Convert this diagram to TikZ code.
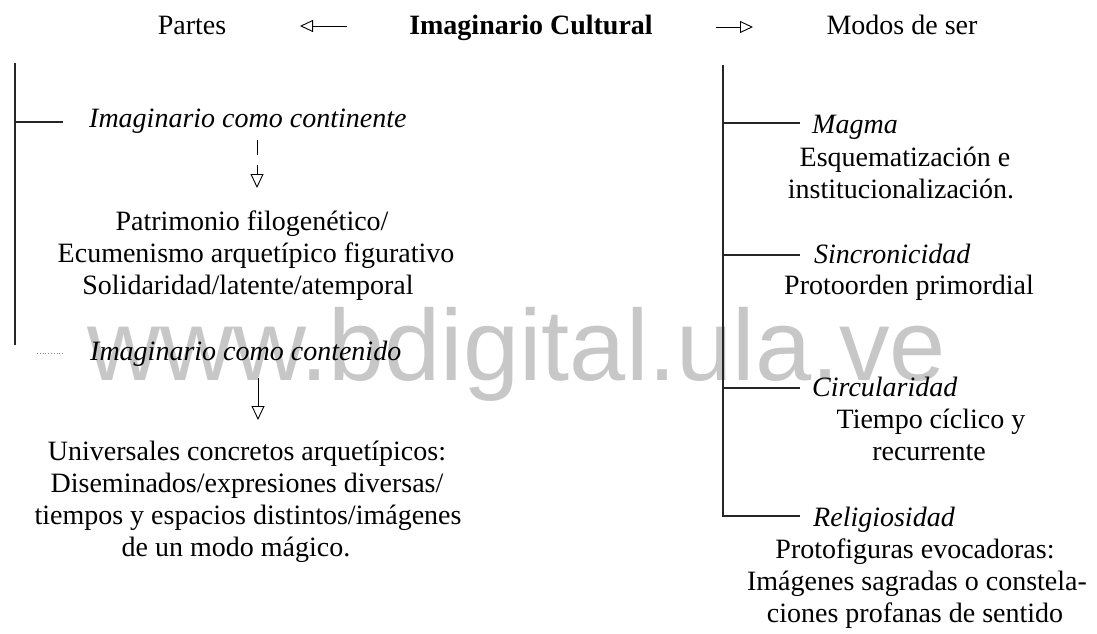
\documentclass[tikz,border=0pt]{standalone}
\usepackage{fontspec}
\setmainfont{Liberation Serif}
\newfontfamily\wmfont{Liberation Sans}
\usetikzlibrary{arrows.meta}
\begin{document}
\begin{tikzpicture}[x=1pt,y=-1pt,
  txt/.style={inner sep=0pt,anchor=base,font=\fontsize{28}{32}\selectfont},
  itx/.style={inner sep=0pt,anchor=base west,font=\fontsize{28}{32}\selectfont\itshape},
  tree/.style={line width=1.1pt,black!85},
  openarrow/.style={line width=0.9pt,-{Triangle[open,length=14pt,width=13pt]}},
  headarrow/.style={line width=0.9pt,-{Triangle[open,length=13pt,width=12pt]}}]
\useasboundingbox (0,0) rectangle (1097,634);
% watermark
\node[inner sep=0pt,anchor=base west,text=black!22,font=\fontsize{101}{106}\wmfont] (wm) at (87,380) {www.bdigital.ula.ve};
% header
\node[txt] (partes) at (192,35) {Partes};
\node[txt,font=\fontsize{28}{32}\selectfont\bfseries] (imc) at (531,35) {Imaginario Cultural};
\node[txt] (modos) at (902,35) {Modos de ser};
\coordinate (la1) at (347,26);
\coordinate (la2) at (300,26);
\coordinate (ra1) at (716,27);
\coordinate (ra2) at (753,27);
\draw[headarrow] (la1) -- (la2);
\draw[headarrow] (ra1) -- (ra2);
% left side
\node[itx] (cont) at (89,127) {Imaginario como continente};
\node[txt] (p1) at (252,230) {Patrimonio filogenético/};
\node[txt] (p2) at (256,262) {Ecumenismo arquetípico figurativo};
\node[txt] (p3) at (248,294) {Solidaridad/latente/atemporal};
\node[itx] (cont2) at (90,360) {Imaginario como contenido};
\node[txt] (u1) at (247,460) {Universales concretos arquetípicos:};
\node[txt] (u2) at (247,492) {Diseminados/expresiones diversas/};
\node[txt] (u3) at (248,524) {tiempos y espacios distintos/imágenes};
\node[txt] (u4) at (236,556) {de un modo mágico.};
\coordinate (ltop) at (15,63);
\coordinate (lbot) at (15,345);
\coordinate (lmid) at (15,122);
\coordinate (lend) at (63,122);
\coordinate (dash1) at (37,353);
\coordinate (dash2) at (63,353);
\draw[tree] (ltop) -- (lbot);
\draw[tree] (lmid) -- (lend);
\draw[black!45,line width=0.8pt,dotted] (dash1) -- (dash2);
\coordinate (a1s) at (257,140);
\coordinate (a1e) at (257,188);
\coordinate (a2s) at (258,378);
\coordinate (a2e) at (258,420);
\draw[openarrow,dash pattern=on 15pt off 10pt] (a1s) -- (a1e);
\draw[openarrow] (a2s) -- (a2e);
% right side
\coordinate (rtop) at (723,65);
\coordinate (r1) at (723,123);
\coordinate (r2) at (723,255);
\coordinate (r3) at (723,388);
\coordinate (r4) at (723,516);
\coordinate (e1) at (800,123);
\coordinate (e2) at (800,255);
\coordinate (e3) at (800,388);
\coordinate (e4) at (800,516);
\draw[tree] (rtop) -- (r4) -- (e4);
\draw[tree] (r1) -- (e1);
\draw[tree] (r2) -- (e2);
\draw[tree] (r3) -- (e3);
\node[itx] (magma) at (812,133) {Magma};
\node[txt] (m1) at (905,166) {Esquematización e};
\node[txt] (m2) at (901,198) {institucionalización.};
\node[itx] (sinc) at (814,263) {Sincronicidad};
\node[txt] (s1) at (909,294) {Protoorden primordial};
\node[itx] (circ) at (812,396) {Circularidad};
\node[txt] (c1) at (931,428) {Tiempo cíclico y};
\node[txt] (c2) at (929,460) {recurrente};
\node[itx] (reli) at (813,526) {Religiosidad};
\node[txt] (rl1) at (915,558) {Protofiguras evocadoras:};
\node[txt] (rl2) at (917,590) {Imágenes sagradas o constela-};
\node[txt] (rl3) at (915,622) {ciones profanas de sentido};
\end{tikzpicture}
\end{document}
